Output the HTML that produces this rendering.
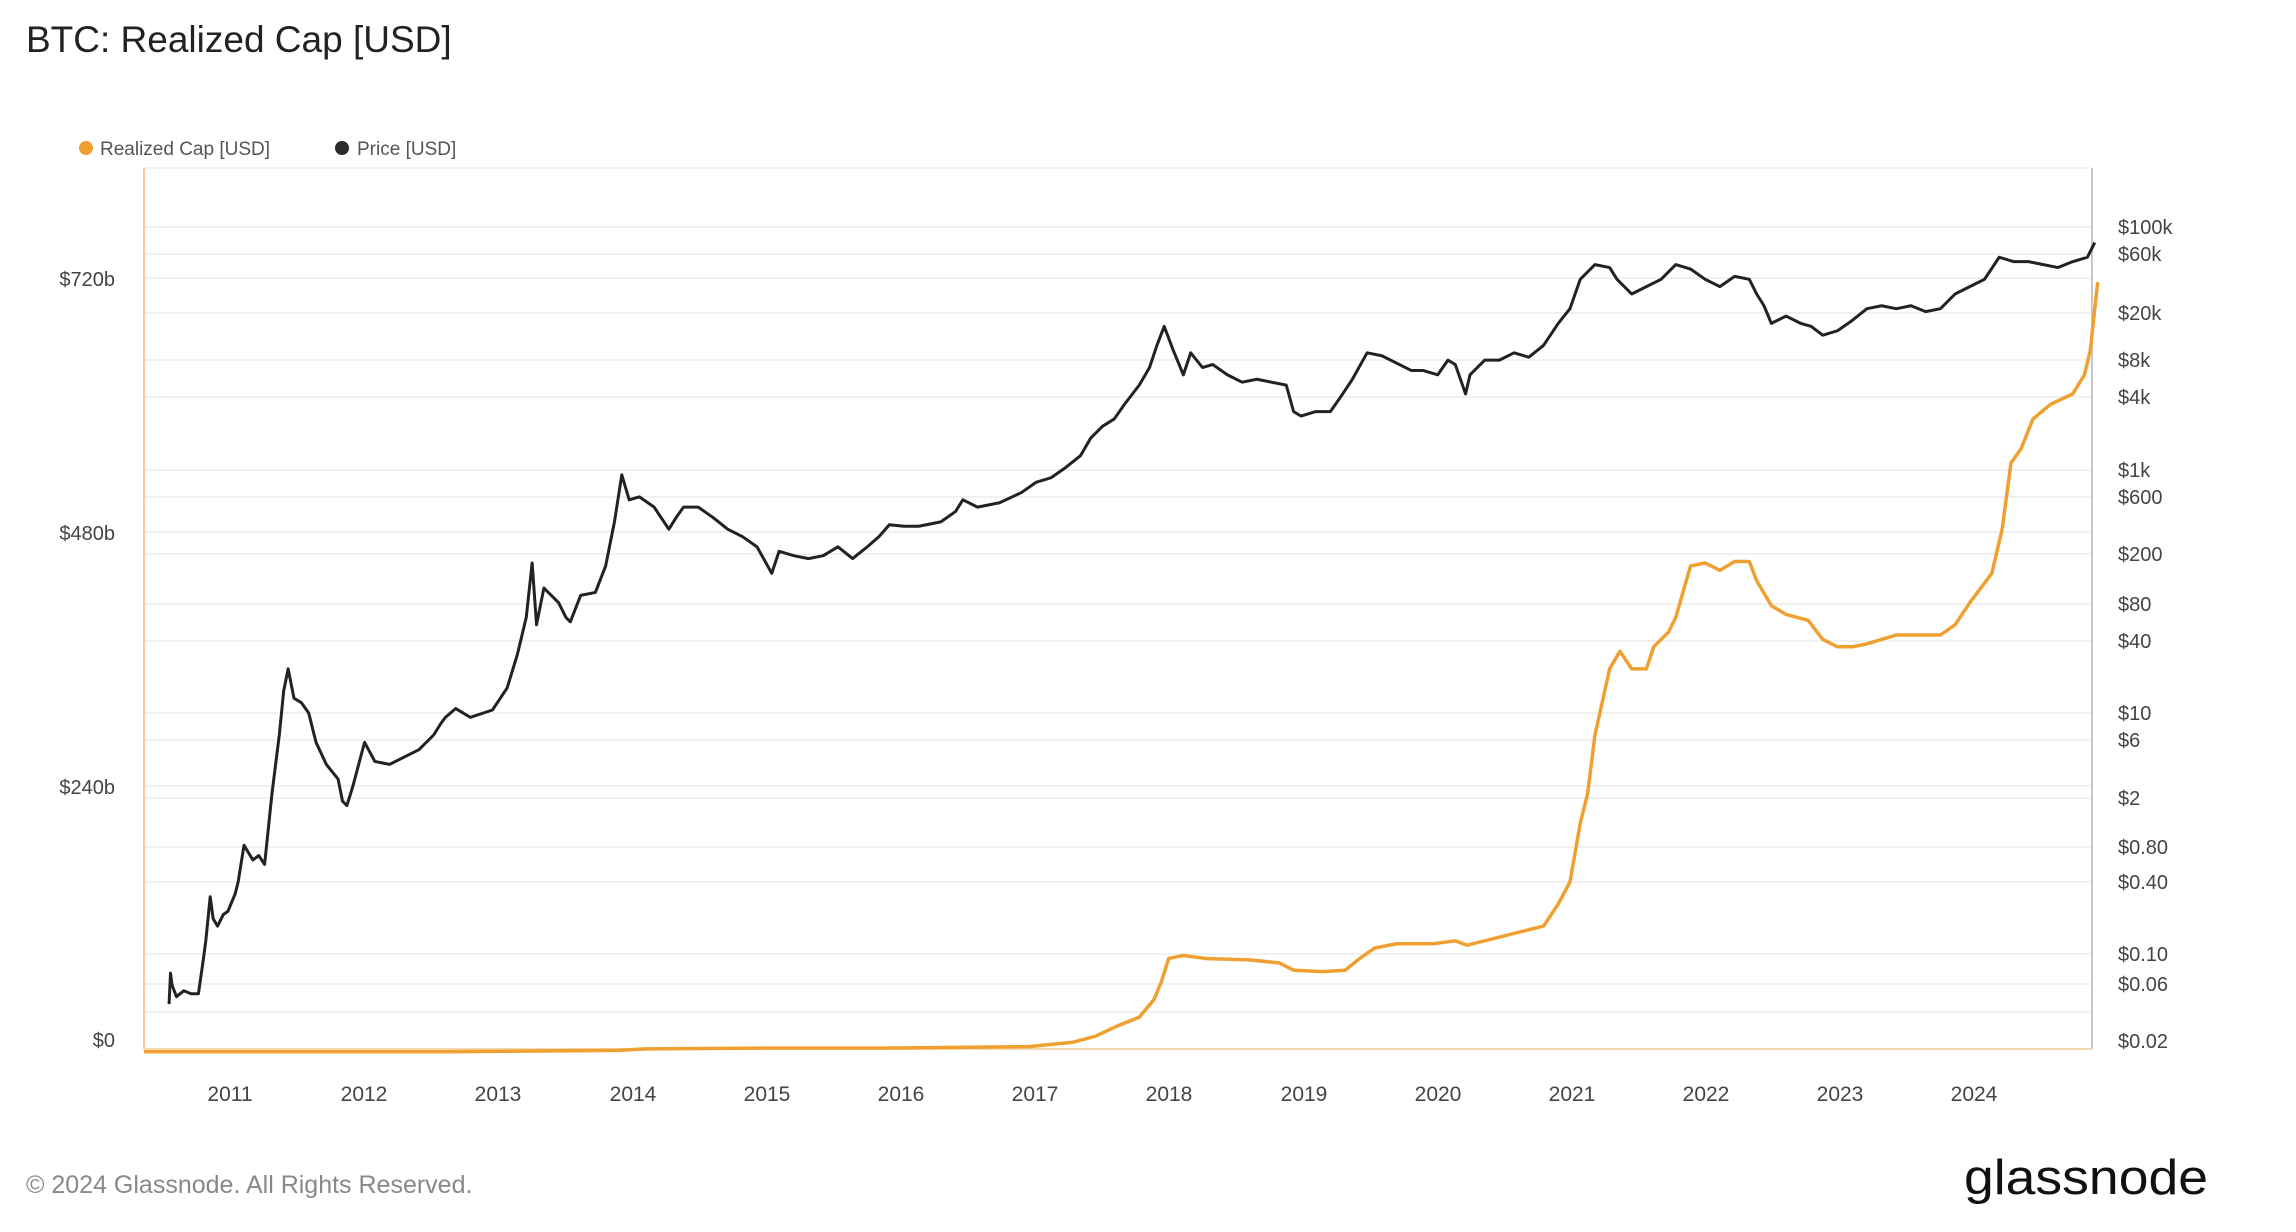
<!DOCTYPE html>
<html><head><meta charset="utf-8"><style>
html,body{margin:0;padding:0;background:#fff;}
svg{display:block;font-family:"Liberation Sans",sans-serif;}
</style></head><body>
<svg width="2296" height="1232" viewBox="0 0 2296 1232" xmlns="http://www.w3.org/2000/svg">
<rect width="2296" height="1232" fill="#fff"/>
<text x="26" y="52" font-size="37" fill="#222">BTC: Realized Cap [USD]</text>
<circle cx="86" cy="148" r="7" fill="#f0a030"/>
<text x="100" y="155" font-size="19" fill="#555">Realized Cap [USD]</text>
<circle cx="342" cy="148" r="7" fill="#2b2b2b"/>
<text x="357" y="155" font-size="19" fill="#555">Price [USD]</text>
<!-- grid -->
<g stroke="#f1f1f1" stroke-width="2">
<line x1="144" x2="2092" y1="227" y2="227"/><line x1="144" x2="2092" y1="254" y2="254"/>
<line x1="144" x2="2092" y1="313" y2="313"/><line x1="144" x2="2092" y1="360" y2="360"/>
<line x1="144" x2="2092" y1="397" y2="397"/><line x1="144" x2="2092" y1="470" y2="470"/>
<line x1="144" x2="2092" y1="497" y2="497"/><line x1="144" x2="2092" y1="554" y2="554"/>
<line x1="144" x2="2092" y1="604" y2="604"/><line x1="144" x2="2092" y1="641" y2="641"/>
<line x1="144" x2="2092" y1="713" y2="713"/><line x1="144" x2="2092" y1="740" y2="740"/>
<line x1="144" x2="2092" y1="798" y2="798"/><line x1="144" x2="2092" y1="847" y2="847"/>
<line x1="144" x2="2092" y1="882" y2="882"/><line x1="144" x2="2092" y1="954" y2="954"/>
<line x1="144" x2="2092" y1="984" y2="984"/><line x1="144" x2="2092" y1="1012" y2="1012"/>
<line x1="144" x2="2092" y1="278" y2="278"/><line x1="144" x2="2092" y1="532" y2="532"/><line x1="144" x2="2092" y1="786" y2="786"/>
</g>
<line x1="144" x2="2092" y1="168" y2="168" stroke="#f3f3f3" stroke-width="2"/>
<line x1="2092" x2="2092" y1="168" y2="1049" stroke="#c8c8c8" stroke-width="2"/>
<line x1="144" x2="144" y1="168" y2="1049" stroke="#f6c9a0" stroke-width="2"/>
<line x1="144" x2="2092" y1="1049" y2="1049" stroke="#f3d9b0" stroke-width="2"/>
<!-- left labels -->
<g font-size="20" fill="#444" text-anchor="end">
<text x="115" y="286">$720b</text><text x="115" y="540">$480b</text><text x="115" y="794">$240b</text><text x="115" y="1047">$0</text>
</g>
<!-- right labels -->
<g font-size="20" fill="#444">
<text x="2118" y="234">$100k</text><text x="2118" y="261">$60k</text><text x="2118" y="320">$20k</text>
<text x="2118" y="367">$8k</text><text x="2118" y="404">$4k</text><text x="2118" y="477">$1k</text>
<text x="2118" y="504">$600</text><text x="2118" y="561">$200</text><text x="2118" y="611">$80</text>
<text x="2118" y="648">$40</text><text x="2118" y="720">$10</text><text x="2118" y="747">$6</text>
<text x="2118" y="805">$2</text><text x="2118" y="854">$0.80</text><text x="2118" y="889">$0.40</text>
<text x="2118" y="961">$0.10</text><text x="2118" y="991">$0.06</text><text x="2118" y="1048">$0.02</text>
</g>
<!-- year labels -->
<g font-size="21" fill="#444" text-anchor="middle">
<text x="230" y="1101">2011</text><text x="364" y="1101">2012</text><text x="498" y="1101">2013</text>
<text x="633" y="1101">2014</text><text x="767" y="1101">2015</text><text x="901" y="1101">2016</text>
<text x="1035" y="1101">2017</text><text x="1169" y="1101">2018</text><text x="1304" y="1101">2019</text>
<text x="1438" y="1101">2020</text><text x="1572" y="1101">2021</text><text x="1706" y="1101">2022</text>
<text x="1840" y="1101">2023</text><text x="1974" y="1101">2024</text>
</g>
<g transform="scale(1.47)" fill="none" stroke-linejoin="round">
<polyline vector-effect="non-scaling-stroke" stroke="#f0a030" stroke-width="3.5" points="98,715.5 300,715.5 420,714.5 440,713.5 520,713 600,713 700,712 710,711 730,709 745,705 760,698 775,692 785,680 790,668 795,652 805,650 820,652 850,653 870,655 880,660 900,661 915,660 925,652 935,645 950,642 975,642 990,640 998,643 1010,640 1030,635 1050,630 1060,615 1068,600 1075,560 1080,540 1085,500 1095,455 1102,443 1110,455 1120,455 1125,440 1135,430 1140,420 1150,385 1160,383 1170,388 1180,382 1190,382 1195,395 1205,412 1215,418 1230,422 1240,435 1250,440 1260,440 1270,438 1280,435 1290,432 1300,432 1320,432 1330,425 1340,410 1355,390 1362,360 1368,315 1375,305 1383,285 1395,275 1410,268 1418,255 1422,238 1425,210 1427,192"/>
<polyline vector-effect="non-scaling-stroke" stroke="#222" stroke-width="3" points="115,683 116,662 117,670 120,678 125,674 130,676 135,676 138,655 140,640 143,610 145,625 148,630 152,622 155,620 160,608 162,600 166,575 172,585 176,582 180,588 185,540 190,500 193,470 196,455 200,475 205,478 210,485 215,505 222,520 230,530 233,545 236,548 240,535 244,520 248,505 255,518 265,520 275,515 285,510 295,500 300,492 303,488 310,482 320,488 335,483 345,468 352,445 358,420 362,383 365,425 370,400 380,410 385,420 388,423 395,405 405,403 412,385 418,355 423,323 428,340 435,338 445,345 455,360 460,352 465,345 475,345 485,352 495,360 505,365 515,372 525,390 530,375 540,378 550,380 560,378 570,372 580,380 590,372 598,365 605,357 615,358 625,358 640,355 650,348 655,340 665,345 680,342 695,335 705,328 715,325 725,318 735,310 742,298 750,290 758,285 765,275 775,262 782,250 787,235 792,222 798,238 805,255 810,240 818,250 825,248 835,255 845,260 855,258 865,260 875,262 880,280 885,283 895,280 905,280 912,270 920,258 930,240 940,242 950,247 960,252 968,252 978,255 985,245 990,248 997,268 1000,255 1010,245 1020,245 1030,240 1040,243 1050,235 1060,220 1068,210 1075,190 1085,180 1095,182 1100,190 1110,200 1120,195 1130,190 1140,180 1150,183 1160,190 1170,195 1180,188 1190,190 1195,200 1200,208 1205,220 1215,215 1225,220 1232,222 1240,228 1250,225 1260,218 1270,210 1280,208 1290,210 1300,208 1310,212 1320,210 1330,200 1340,195 1350,190 1360,175 1370,178 1380,178 1390,180 1400,182 1410,178 1420,175 1425,165"/>
</g>
<text x="26" y="1193" font-size="25" fill="#888">© 2024 Glassnode. All Rights Reserved.</text>
<text x="1964" y="1194" font-size="49" fill="#111" textLength="244" lengthAdjust="spacingAndGlyphs">glassnode</text>
</svg>
</body></html>
